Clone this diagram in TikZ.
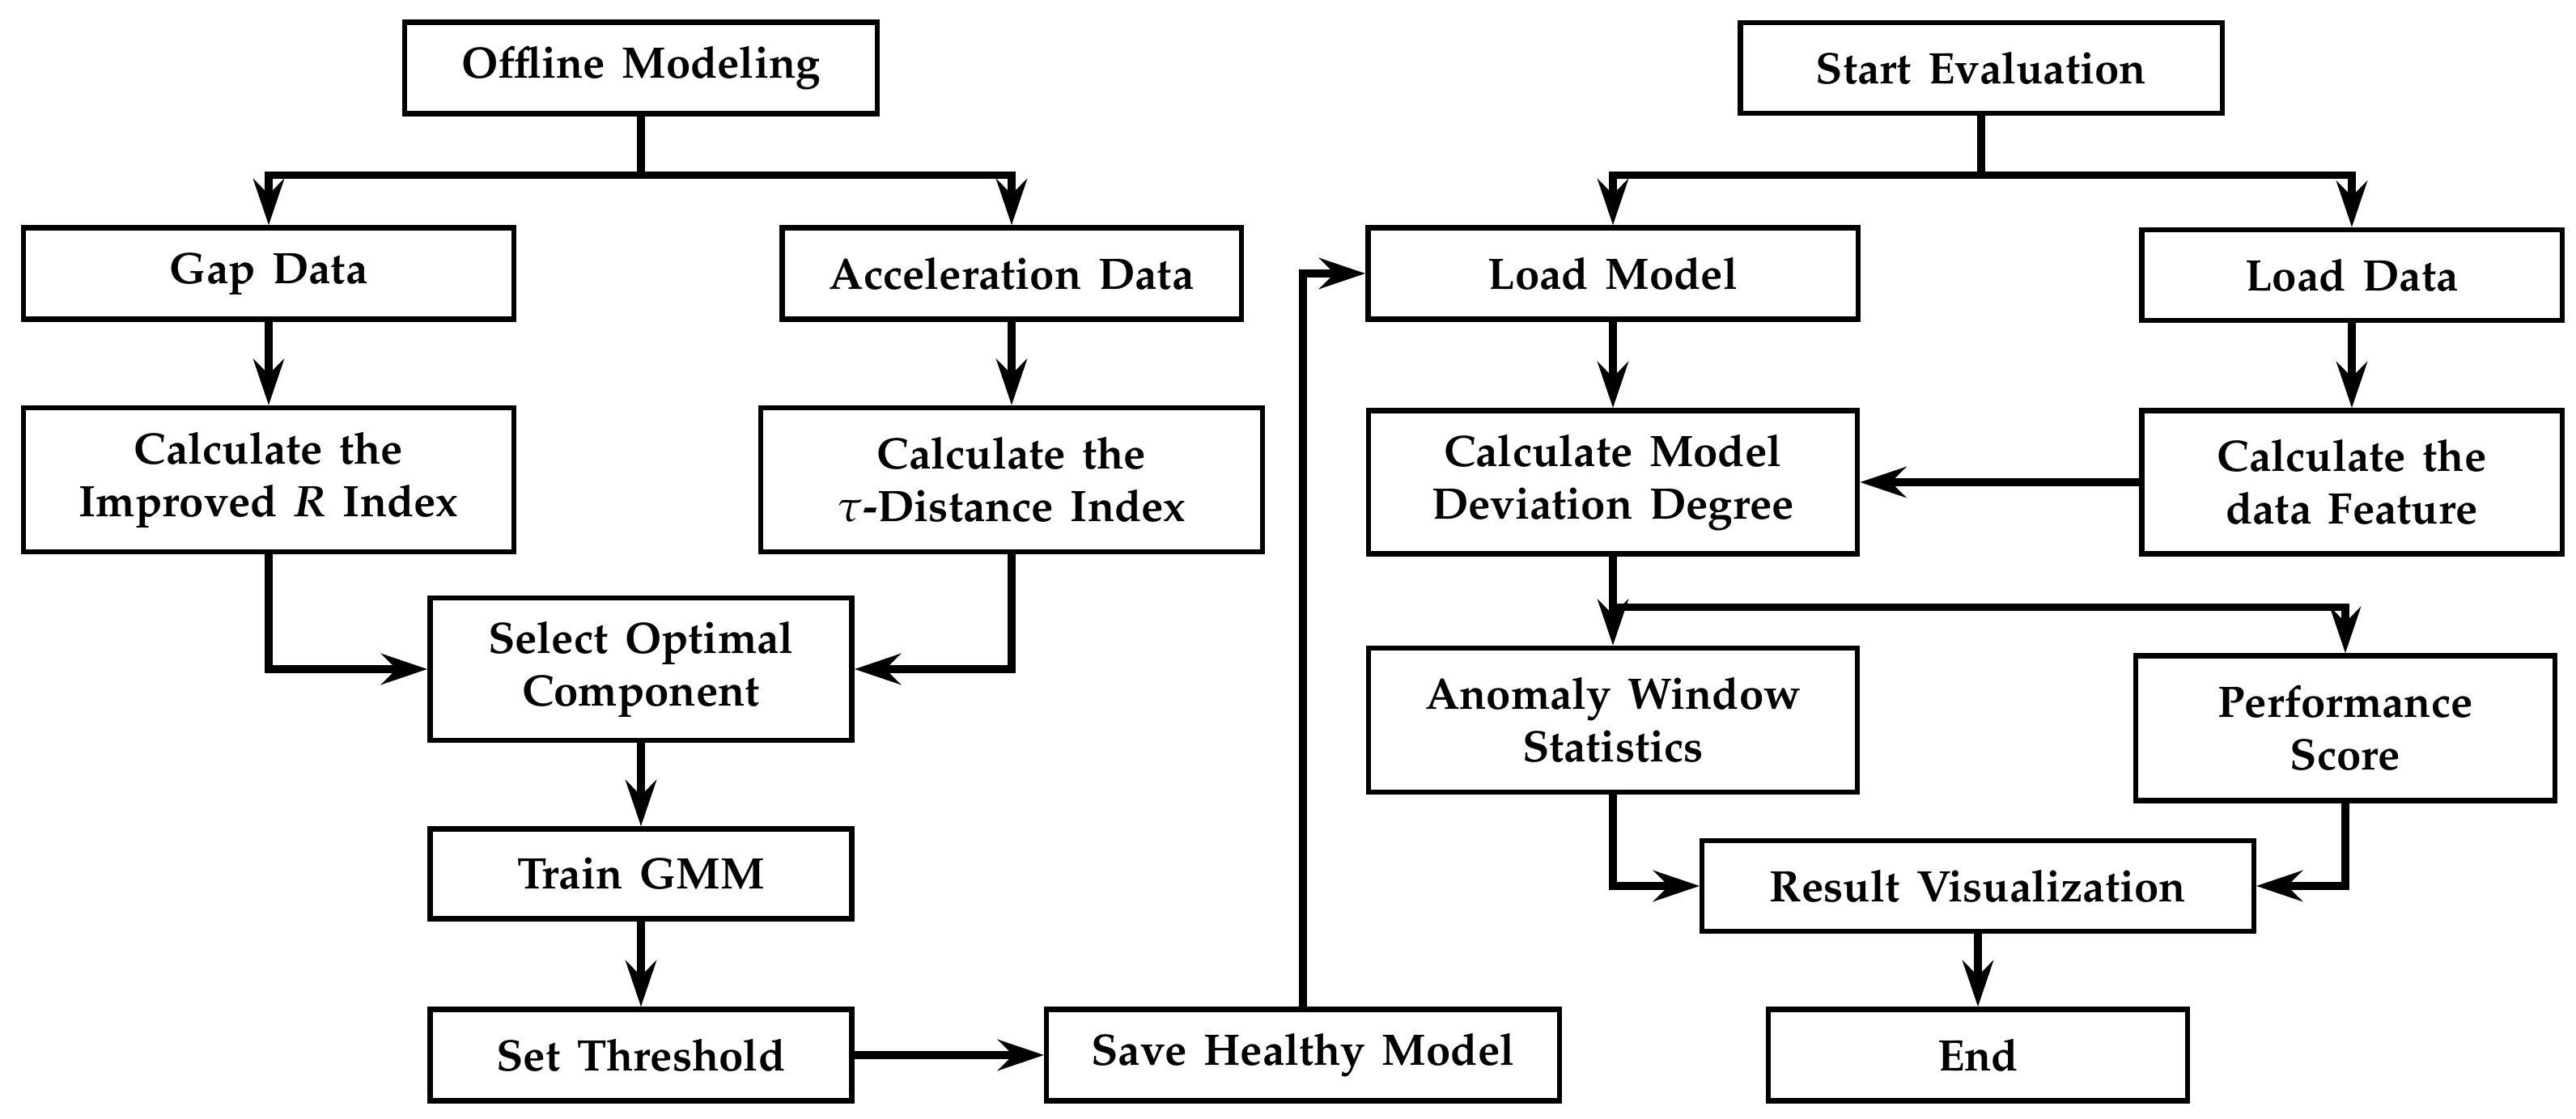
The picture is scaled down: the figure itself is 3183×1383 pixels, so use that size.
\documentclass[tikz,border=0pt]{standalone}
\usepackage[T1]{fontenc}
\usepackage{mathpazo}
\usetikzlibrary{arrows.meta}
\newcommand\boxfont{\fontsize{15.5}{18.5}\selectfont\bfseries\spaceskip=0.38em\relax}
\begin{document}
\begin{tikzpicture}[x=0.01cm, y=-0.01cm,
  box/.style={draw, line width=1.8pt, align=center, inner sep=0pt, font=\boxfont},
  flow/.style={line width=2.6pt, -{Stealth[length=5.7mm, width=3.8mm, inset=1.9mm]}}]
\useasboundingbox (0,0) rectangle (3183,1383);

\node[box, minimum width=5.84cm, minimum height=1.13cm] (offline) at (792,84) {Offline Modeling};
\node[box, minimum width=6.06cm, minimum height=1.13cm] (gap) at (332,338) {Gap Data};
\node[box, minimum width=5.67cm, minimum height=1.13cm] (accel) at (1250,338) {Acceleration Data};
\node[box, minimum width=6.06cm, minimum height=1.78cm] (calcR) at (332,593) {Calculate the\\Improved \textit{R} Index};
\node[box, minimum width=6.19cm, minimum height=1.78cm] (calcTau) at (1250,593) {Calculate the\\$\tau$-Distance Index};
\node[box, minimum width=5.21cm, minimum height=1.76cm] (select) at (792,827) {Select Optimal\\Component};
\node[box, minimum width=5.21cm, minimum height=1.11cm] (train) at (792,1080) {Train GMM};
\node[box, minimum width=5.21cm, minimum height=1.13cm] (thresh) at (792,1304) {Set Threshold};
\node[box, minimum width=6.33cm, minimum height=1.13cm] (save) at (1610,1304) {Save Healthy Model};

\node[box, minimum width=5.95cm, minimum height=1.12cm] (start) at (2448,84) {Start Evaluation};
\node[box, minimum width=6.05cm, minimum height=1.13cm] (loadM) at (1993,338) {Load Model};
\node[box, minimum width=5.19cm, minimum height=1.12cm] (loadD) at (2906,340) {Load Data};
\node[box, minimum width=6.04cm, minimum height=1.77cm] (dev) at (1993,596) {Calculate Model\\Deviation Degree};
\node[box, minimum width=5.19cm, minimum height=1.77cm] (feat) at (2906,596) {Calculate the\\data Feature};
\node[box, minimum width=6.04cm, minimum height=1.78cm] (anom) at (1993,890) {Anomaly Window\\Statistics};
\node[box, minimum width=5.18cm, minimum height=1.79cm] (perf) at (2898,900) {Performance\\Score};
\node[box, minimum width=6.81cm, minimum height=1.12cm] (result) at (2444,1095) {Result Visualization};
\node[box, minimum width=5.18cm, minimum height=1.13cm] (end) at (2444,1304) {End};

\draw[flow] (offline.south) -- ++(0,73) -| (gap.north);
\draw[flow] (offline.south) -- ++(0,73) -| (accel.north);
\draw[flow] (gap) -- (calcR);
\draw[flow] (accel) -- (calcTau);
\draw[flow] (calcR.south) |- (select.west);
\draw[flow] (calcTau.south) |- (select.east);
\draw[flow] (select) -- (train);
\draw[flow] (train) -- (thresh);
\draw[flow] (thresh) -- (save);
\draw[flow] (save.north) |- (loadM.west);

\draw[flow] (start.south) -- ++(0,73) -| (loadM.north);
\draw[flow] (start.south) -- ++(0,73) -| (loadD.north);
\draw[flow] (loadM) -- (dev);
\draw[flow] (loadD) -- (feat);
\draw[flow] (feat) -- (dev);
\draw[flow] (dev.south) -- ++(0,63) -| (anom.north);
\draw[flow] (dev.south) -- ++(0,63) -| (perf.north);
\draw[flow] (anom.south) |- (result.west);
\draw[flow] (perf.south) |- (result.east);
\draw[flow] (result) -- (end);
\end{tikzpicture}
\end{document}
